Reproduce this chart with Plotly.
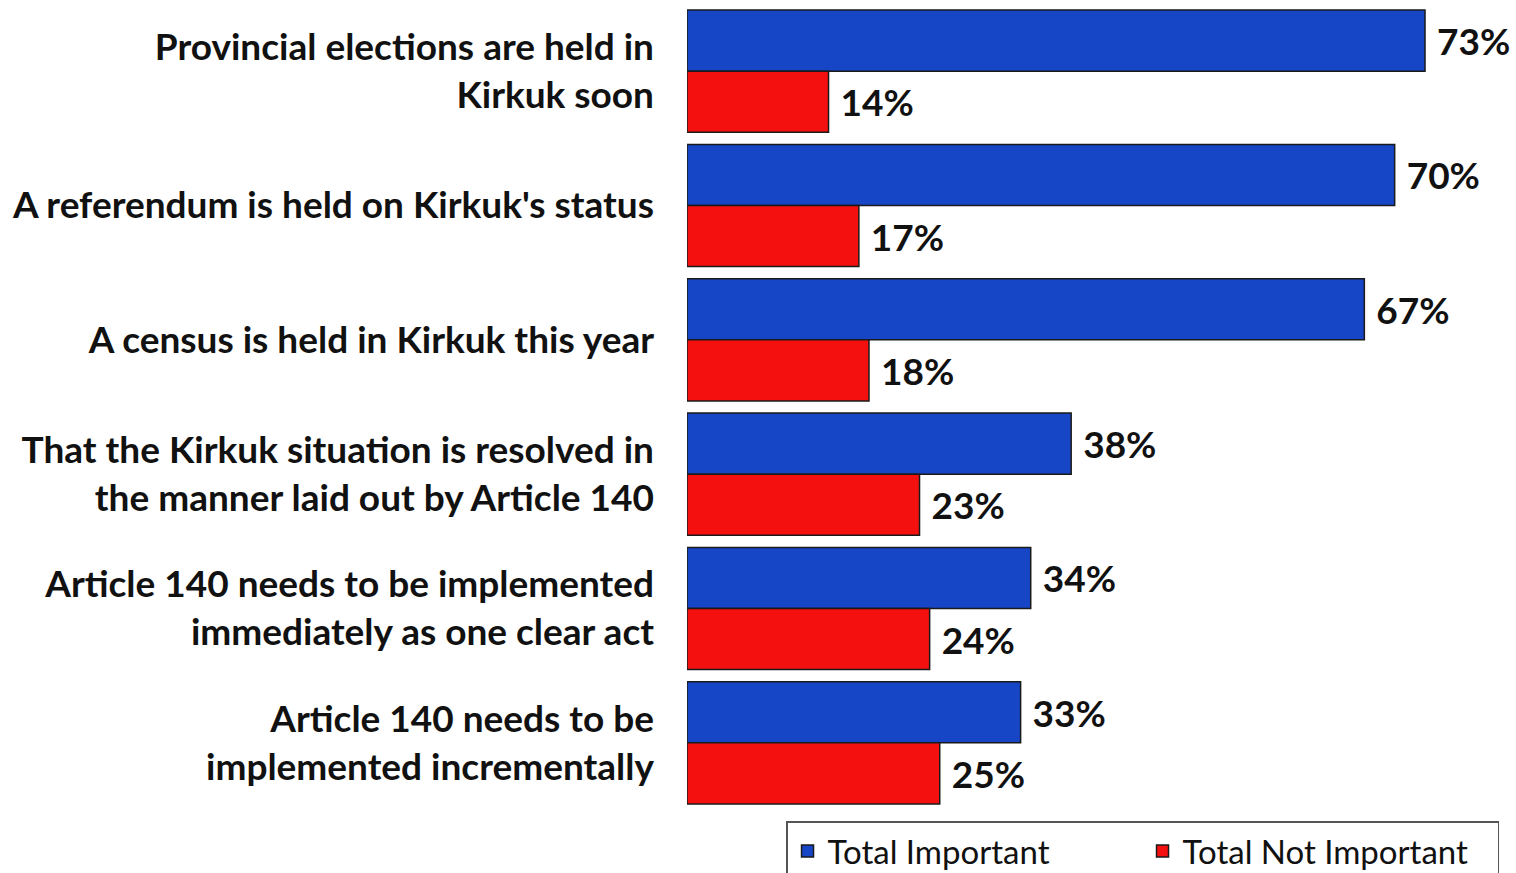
import plotly.graph_objects as go

categories = [
    "Provincial elections are held in<br>Kirkuk soon",
    "A referendum is held on Kirkuk's status",
    "A census is held in Kirkuk this year",
    "That the Kirkuk situation is resolved in<br>the manner laid out by Article 140",
    "Article 140 needs to be implemented<br>immediately as one clear act",
    "Article 140 needs to be<br>implemented incrementally",
]
important = [73, 70, 67, 38, 34, 33]
not_important = [14, 17, 18, 23, 24, 25]
series_names = ["Total Important", "Total Not Important"]

FONT = "Lato, 'Open Sans', sans-serif"
NBSP = "\u00a0"

fig = go.Figure()
fig.add_trace(go.Bar(
    y=categories, x=important, orientation="h", name=series_names[0],
    marker=dict(color="#1646c6", line=dict(color="#1a1a1a", width=1.5)),
    text=[f"{NBSP}{v}%" for v in important], textposition="outside",
    textfont=dict(family=FONT, size=37, color="#111", weight="bold"),
    cliponaxis=False,
))
fig.add_trace(go.Bar(
    y=categories, x=not_important, orientation="h", name=series_names[1],
    marker=dict(color="#f51010", line=dict(color="#1a1a1a", width=1.5)),
    text=[f"{NBSP}{v}%" for v in not_important], textposition="outside",
    textfont=dict(family=FONT, size=37, color="#111", weight="bold"),
    cliponaxis=False,
))

fig.update_layout(
    width=1516, height=873,
    margin=dict(l=687, r=0, t=4, b=63),
    barmode="group", bargap=0.09, bargroupgap=0,
    plot_bgcolor="white", paper_bgcolor="white",
    font=dict(family=FONT, size=30, color="#111", weight="bold"),
    showlegend=True,
    legend=dict(
        orientation="h", xref="container", yref="container",
        x=0.9888, xanchor="right", y=0.0590, yanchor="top",
        bordercolor="#555", borderwidth=1.5, bgcolor="white",
        font=dict(family=FONT, size=33, color="#111", weight="normal"),
        itemwidth=30, entrywidth=310, traceorder="normal",
    ),
    xaxis=dict(range=[0, 82], visible=False, fixedrange=True, automargin=False),
    yaxis=dict(autorange="reversed", showgrid=False, zeroline=False,
               showline=False, ticks="", ticklabelstandoff=32, automargin=False,
               tickfont=dict(family=FONT, size=37, color="#111", weight="bold")),
)

fig.write_html(
    "out.html",
    config={"displayModeBar": False},
    post_script="document.body.style.margin='0';document.body.style.overflow='hidden';",
)
